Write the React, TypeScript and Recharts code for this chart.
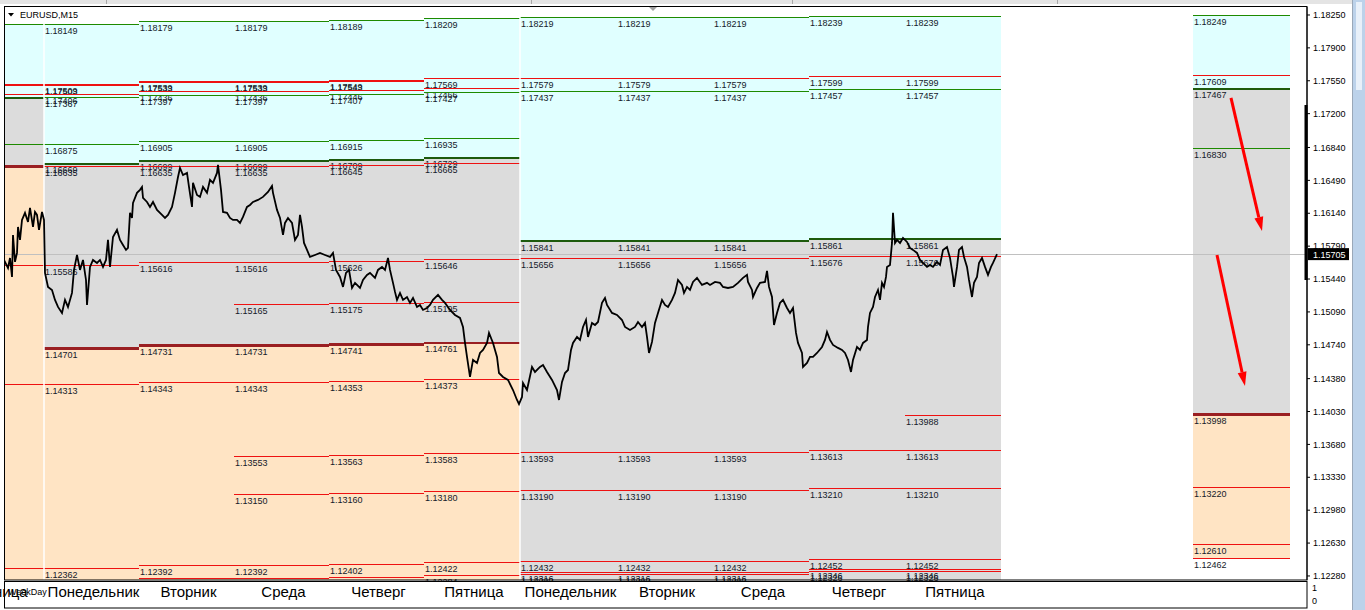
import React from "react";
import { ComposedChart, Line, XAxis, YAxis, ReferenceArea, ReferenceLine, ReferenceDot } from "recharts";

const FONT = "'Liberation Sans', Arial, sans-serif";

const Y_MIN = 1.12237;
const Y_MAX = 1.18335;
const X_MIN = 1;
const X_MAX = 1303;

const yTicks = [1.1825, 1.179, 1.1755, 1.172, 1.1684, 1.1649, 1.1614, 1.1579, 1.1544, 1.1509, 1.1474, 1.1438, 1.1403, 1.1368, 1.1333, 1.1298, 1.1263, 1.1228];
const bidPrice = 1.15705;

// M15 bars, one per column
const dayStarts = [-56, 40, 135, 230, 325, 420, 516, 613, 709, 805, 901];
const dayEnds = [40, 135, 230, 325, 420, 516, 613, 709, 805, 901, 997];
const dayNames = ["Пятница", "Понедельник", "Вторник", "Среда", "Четверг", "Пятница", "Понедельник", "Вторник", "Среда", "Четверг", "Пятница"];
const weekStarts = [40, 516];

// zone borders per day: cyan top, cyan/gray, gray/peach (null = below chart)
const cyanTops = [1.18149, 1.18149, 1.18179, 1.18179, 1.18189, 1.18209, 1.18219, 1.18219, 1.18219, 1.18239, 1.18239];
const grayTops = [1.17367, 1.16669, 1.16699, 1.16699, 1.16709, 1.16729, 1.15841, 1.15841, 1.15841, 1.15861, 1.15861];
const peachTops: (number | null)[] = [1.16635, 1.14701, 1.14731, 1.14731, 1.14741, 1.14761, null, null, null, null, null];

type Level = [number, string];

const dayLevels: Level[][] = [
  [[1.18149, "g"], [1.17509, "r"], [1.17503, "r"], [1.17406, "r"], [1.17367, "dg"], [1.16875, "g"], [1.16635, "br"], [1.15586, "r"], [1.14313, "r"], [1.12362, "r"]],
  [[1.18149, "g"], [1.17509, "r"], [1.17503, "r"], [1.17406, "r"], [1.17367, "g"], [1.16875, "g"], [1.16669, "dg"], [1.16635, "r"], [1.15586, "r"], [1.14701, "br"], [1.14313, "r"], [1.12362, "r"]],
  [[1.18179, "g"], [1.17539, "r"], [1.17533, "r"], [1.17436, "r"], [1.17397, "g"], [1.16905, "g"], [1.16699, "dg"], [1.16635, "r"], [1.15616, "r"], [1.14731, "br"], [1.14343, "r"], [1.12392, "r"], [1.12256, "r"]],
  [[1.18179, "g"], [1.17539, "r"], [1.17533, "r"], [1.17436, "r"], [1.17397, "g"], [1.16905, "g"], [1.16699, "dg"], [1.16635, "r"], [1.15616, "r"], [1.15165, "r"], [1.14731, "br"], [1.14343, "r"], [1.13553, "r"], [1.1315, "r"], [1.12392, "r"], [1.12256, "r"]],
  [[1.18189, "g"], [1.17549, "r"], [1.17543, "r"], [1.17446, "r"], [1.17407, "g"], [1.16915, "g"], [1.16709, "dg"], [1.16645, "r"], [1.15626, "r"], [1.15175, "r"], [1.14741, "br"], [1.14353, "r"], [1.13563, "r"], [1.1316, "r"], [1.12402, "r"], [1.12264, "r"]],
  [[1.18209, "g"], [1.17569, "r"], [1.17466, "r"], [1.17427, "g"], [1.16935, "g"], [1.16729, "dg"], [1.16665, "r"], [1.15646, "r"], [1.15195, "r"], [1.14761, "br"], [1.14373, "r"], [1.13583, "r"], [1.1318, "r"], [1.12422, "r"], [1.12284, "r"]],
  [[1.18219, "g"], [1.17579, "r"], [1.17437, "g"], [1.15841, "dg"], [1.15656, "r"], [1.13593, "r"], [1.1319, "r"], [1.12432, "r"], [1.12316, "r"], [1.12292, "r"]],
  [[1.18219, "g"], [1.17579, "r"], [1.17437, "g"], [1.15841, "dg"], [1.15656, "r"], [1.13593, "r"], [1.1319, "r"], [1.12432, "r"], [1.12316, "r"], [1.12292, "r"]],
  [[1.18219, "g"], [1.17579, "r"], [1.17437, "g"], [1.15841, "dg"], [1.15656, "r"], [1.13593, "r"], [1.1319, "r"], [1.12432, "r"], [1.12316, "r"], [1.12292, "r"]],
  [[1.18239, "g"], [1.17599, "r"], [1.17457, "g"], [1.15861, "dg"], [1.15676, "r"], [1.13613, "r"], [1.1321, "r"], [1.12452, "r"], [1.12346, "r"], [1.12326, "r"]],
  [[1.18239, "g"], [1.17599, "r"], [1.17457, "g"], [1.15861, "dg"], [1.15676, "r"], [1.13988, "r"], [1.13613, "r"], [1.1321, "r"], [1.12452, "r"], [1.12346, "r"], [1.12326, "r"]],
];

// projected levels for the next day (box on the right)
const nextStart = 1189;
const nextEnd = 1286;
const nextZone = [1.18249, 1.17467, 1.13998, 1.12462];
const nextLevels: Level[] = [[1.18249, "g"], [1.17609, "r"], [1.17467, "dg"], [1.1683, "g"], [1.13998, "br"], [1.1322, "r"], [1.1261, "r"], [1.12462, "r"]];

const arrowFrom: [number, number][] = [[1227, 1.17367], [1213, 1.15696]];
const arrowTo: [number, number][] = [[1258, 1.15951], [1241, 1.14302]];

// EURUSD M15 close path [bar, price]
const pricePath: [number, number][] = [
  [0, 1.15643], [4, 1.15558], [6, 1.15664], [8, 1.15462], [9, 1.15909], [11, 1.15622], [13, 1.15718], [14, 1.15994], [16, 1.15856], [18, 1.16069], [21, 1.16144], [24, 1.16047], [26, 1.16197], [29, 1.15994], [31, 1.16154], [33, 1.16122], [35, 1.15963], [38, 1.16154], [40, 1.16069],
  [41, 1.15505], [44, 1.15356], [48, 1.15324], [51, 1.15218], [54, 1.15143], [58, 1.15079], [61, 1.15218], [64, 1.15143], [68, 1.15292], [70, 1.15537], [73, 1.15696], [76, 1.15537], [79, 1.15643], [82, 1.1543], [83, 1.15164], [86, 1.15569], [89, 1.15643], [93, 1.15611], [96, 1.15643], [99, 1.15569], [102, 1.15643], [104, 1.15856], [106, 1.15569], [109, 1.15887], [113, 1.15963], [116, 1.15856], [119, 1.15803], [122, 1.1575], [124, 1.15771], [126, 1.16144], [128, 1.1609], [129, 1.1625], [133, 1.16357], [136, 1.16389],
  [138, 1.1642], [139, 1.16303], [143, 1.1626], [146, 1.16207], [149, 1.1626], [153, 1.16176], [158, 1.16122], [161, 1.1609], [164, 1.16122], [168, 1.16207], [171, 1.16357], [174, 1.16526], [176, 1.16622], [179, 1.16547], [183, 1.16569], [185, 1.1642], [188, 1.16207], [189, 1.16463], [193, 1.16335], [196, 1.16314], [199, 1.1642], [203, 1.16357], [206, 1.16495], [209, 1.16463], [213, 1.16569], [214, 1.16654], [217, 1.16389], [219, 1.16154], [223, 1.16144], [226, 1.1609], [229, 1.16069],
  [233, 1.16069], [236, 1.16037], [239, 1.16101], [243, 1.16207], [246, 1.16228], [249, 1.1626], [254, 1.16282], [259, 1.16314], [264, 1.16367], [268, 1.16431], [269, 1.16357], [273, 1.16176], [276, 1.1609], [279, 1.15909], [281, 1.16037], [284, 1.1609], [288, 1.16037], [291, 1.15856], [294, 1.15909], [296, 1.16122], [298, 1.15994], [300, 1.15824], [303, 1.1575], [306, 1.15675], [311, 1.15696], [316, 1.15718], [321, 1.15696], [326, 1.15675], [329, 1.15718],
  [332, 1.15537], [336, 1.15462], [339, 1.15356], [342, 1.15505], [345, 1.15537], [348, 1.15345], [351, 1.15399], [356, 1.15345], [359, 1.1543], [363, 1.15484], [366, 1.15505], [371, 1.15452], [374, 1.15537], [378, 1.15569], [381, 1.15537], [384, 1.15664], [386, 1.15537], [389, 1.15399], [391, 1.15303], [393, 1.15218], [396, 1.15292], [399, 1.15218], [403, 1.15249], [406, 1.15186], [409, 1.15239], [413, 1.15143], [416, 1.15164], [419, 1.15111],
  [423, 1.15132], [426, 1.15164], [429, 1.15218], [434, 1.15271], [438, 1.15218], [441, 1.15186], [446, 1.15111], [451, 1.15058], [456, 1.15026], [459, 1.1493], [461, 1.1476], [463, 1.14611], [466, 1.14398], [469, 1.14579], [473, 1.14547], [476, 1.14653], [479, 1.14685], [483, 1.1476], [485, 1.14866], [489, 1.1476], [493, 1.14611], [495, 1.1444], [499, 1.14398], [504, 1.14366], [509, 1.14259], [513, 1.14153], [515, 1.1411],
  [518, 1.14185], [519, 1.14334], [523, 1.14259], [528, 1.14504], [531, 1.14451], [536, 1.14504], [539, 1.14525], [543, 1.14451], [548, 1.14366], [553, 1.14259], [555, 1.14153], [558, 1.14345], [561, 1.1444], [564, 1.14472], [567, 1.14685], [569, 1.1476], [573, 1.14824], [576, 1.14792], [579, 1.1493], [582, 1.15004], [584, 1.14824], [588, 1.14973], [591, 1.14951], [594, 1.14983], [598, 1.15186], [601, 1.15239], [603, 1.15164], [608, 1.15079],
  [613, 1.15058], [618, 1.15004], [621, 1.1493], [626, 1.14898], [631, 1.1493], [634, 1.14983], [638, 1.1493], [641, 1.14973], [643, 1.14824], [645, 1.14653], [648, 1.14771], [651, 1.14973], [654, 1.15079], [658, 1.15218], [661, 1.15164], [664, 1.15143], [668, 1.15218], [671, 1.15292], [674, 1.1543], [678, 1.15377], [680, 1.15292], [683, 1.15356], [686, 1.15324], [689, 1.15409], [693, 1.15452], [698, 1.15377], [703, 1.15399], [706, 1.15377],
  [711, 1.15409], [716, 1.15399], [719, 1.15356], [724, 1.15345], [729, 1.15356], [734, 1.15399], [739, 1.15452], [743, 1.15484], [744, 1.15409], [748, 1.15324], [749, 1.15249], [753, 1.15345], [756, 1.15399], [761, 1.15409], [763, 1.15526], [765, 1.15356], [768, 1.15249], [770, 1.14951], [773, 1.15079], [776, 1.15186], [779, 1.15218], [783, 1.15132], [786, 1.15079], [789, 1.15132], [792, 1.14866], [794, 1.1476], [798, 1.14653], [799, 1.14504],
  [803, 1.14547], [806, 1.14611], [809, 1.14611], [813, 1.14653], [818, 1.14717], [821, 1.14792], [823, 1.14877], [826, 1.14792], [829, 1.14739], [834, 1.14707], [838, 1.14685], [841, 1.14653], [844, 1.14579], [847, 1.14451], [849, 1.14579], [853, 1.14717], [856, 1.14685], [859, 1.1476], [863, 1.14792], [864, 1.1493], [866, 1.15079], [869, 1.15143], [871, 1.15249], [874, 1.15324], [876, 1.15218], [878, 1.15399], [880, 1.15356], [882, 1.15462], [883, 1.15569], [886, 1.1559], [888, 1.15824], [889, 1.16144], [891, 1.15824], [893, 1.15856], [896, 1.15824],
  [899, 1.15877], [903, 1.15835], [906, 1.15771], [909, 1.1575], [913, 1.15718], [916, 1.15643], [919, 1.15611], [923, 1.15569], [926, 1.1559], [929, 1.15569], [933, 1.15622], [936, 1.1559], [939, 1.1575], [943, 1.15781], [946, 1.15664], [949, 1.15462], [950, 1.15356], [953, 1.15569], [955, 1.1575], [958, 1.15781], [960, 1.15675], [963, 1.15569], [965, 1.1543], [968, 1.15249], [970, 1.15399], [973, 1.15462], [975, 1.15611], [978, 1.15664], [981, 1.15569], [984, 1.15484], [987, 1.15569], [989, 1.15611], [993, 1.15705],
];

const LEVEL_STYLE: Record<string, { color: string; width: number }> = {
  g: { color: "#1e8a00", width: 1 },
  dg: { color: "#1d5a0c", width: 2 },
  r: { color: "#ee1111", width: 1 },
  br: { color: "#9a1f22", width: 2.5 },
};

const ZONE = { cyan: "#e0ffff", gray: "#dcdcdc", peach: "#ffe4c4" };

const priceData = pricePath.map(([bar, price]) => ({ bar, price }));
const dayLabelData = dayNames.map((name, i) => ({ bar: (dayStarts[i] + dayEnds[i]) / 2 + 2, v: 0.3, name }));

const levelShape = (price: number, kind: string, showLabel: boolean) => (p: any) => {
  const st = LEVEL_STYLE[kind];
  const left = Math.min(p.x1, p.x2);
  return (
    <g>
      <line x1={p.x1} y1={p.y1} x2={p.x2} y2={p.y2} stroke={st.color} strokeWidth={st.width} shapeRendering="crispEdges" />
      {showLabel && (
        <text x={left + 1} y={p.y1 + 9.5} fontSize={9} fontFamily={FONT} fill="#141a2a">
          {price.toFixed(5)}
        </text>
      )}
    </g>
  );
};

const bidShape = (p: any) => {
  const right = Math.max(p.x1, p.x2);
  return (
    <g>
      <line x1={p.x1} y1={p.y1} x2={p.x2} y2={p.y2} stroke="#c0c0c0" strokeWidth={1} shapeRendering="crispEdges" />
      <rect x={right + 1} y={p.y1 - 6} width={41} height={12} fill="#000" />
      <text x={right + 6} y={p.y1 + 3.5} fontSize={9} fontFamily={FONT} fill="#fff">
        {bidPrice.toFixed(5)}
      </text>
    </g>
  );
};

const arrowShape = (p: any) => {
  const dx = p.x2 - p.x1;
  const dy = p.y2 - p.y1;
  const len = Math.hypot(dx, dy);
  const ux = dx / len;
  const uy = dy / len;
  const hl = 14;
  const hw = 4.5;
  const bx = p.x2 - ux * hl;
  const by = p.y2 - uy * hl;
  return (
    <g>
      <line x1={p.x1} y1={p.y1} x2={bx} y2={by} stroke="#ff0000" strokeWidth={3} />
      <polygon points={`${p.x2},${p.y2} ${bx - uy * hw},${by + ux * hw} ${bx + uy * hw},${by - ux * hw}`} fill="#ff0000" />
    </g>
  );
};

function zoneAreas(key: string, x1: number, x2: number, bounds: (number | null)[]) {
  const [cTop, gTop, pTop, pBottom] = bounds;
  const out: React.ReactNode[] = [];
  const gBottom = pTop == null ? Y_MIN : pTop;
  out.push(<ReferenceArea key={key + "c"} x1={x1} x2={x2} y1={gTop as number} y2={cTop as number} fill={ZONE.cyan} fillOpacity={1} stroke="none" />);
  out.push(<ReferenceArea key={key + "g"} x1={x1} x2={x2} y1={gBottom} y2={gTop as number} fill={ZONE.gray} fillOpacity={1} stroke="none" />);
  if (pTop != null) {
    out.push(<ReferenceArea key={key + "p"} x1={x1} x2={x2} y1={pBottom == null ? Y_MIN : pBottom} y2={pTop} fill={ZONE.peach} fillOpacity={1} stroke="none" />);
  }
  return out;
}

function levelLines(key: string, x1: number, x2: number, levels: Level[], showLabel: boolean) {
  return levels.map(([price, kind], j) => (
    <ReferenceLine
      key={key + "-" + j}
      segment={[{ x: x1, y: price }, { x: x2, y: price }]}
      shape={levelShape(price, kind, showLabel)}
    />
  ));
}

export default function App() {
  return (
    <div style={{ position: "absolute", left: 0, top: 0, width: 1365, height: 610, background: "#fff", overflow: "hidden", fontFamily: FONT }}>
      {/* main window */}
      <div style={{ position: "absolute", left: 0, top: 0 }}>
        <ComposedChart width={1365} height={582} data={priceData} margin={{ top: 7, right: 0, bottom: 2, left: 5 }}>
          <XAxis type="number" dataKey="bar" domain={[X_MIN, X_MAX]} hide allowDataOverflow />
          <YAxis
            orientation="right"
            type="number"
            domain={[Y_MIN, Y_MAX]}
            ticks={yTicks}
            interval={0}
            width={58}
            allowDataOverflow
            tickSize={3}
            tickMargin={3}
            tickFormatter={(v: number) => v.toFixed(5)}
            axisLine={{ stroke: "#000" }}
            tickLine={{ stroke: "#000" }}
            tick={{ fill: "#000", fontSize: 9, fontFamily: FONT }}
          />

          {dayStarts.map((s, i) =>
            zoneAreas("z" + i, Math.max(s, X_MIN), dayEnds[i], [cyanTops[i], grayTops[i], peachTops[i], null])
          )}
          {zoneAreas("zn", nextStart, nextEnd, nextZone)}

          {dayStarts.map((s, i) => levelLines("l" + i, Math.max(s, X_MIN), dayEnds[i], dayLevels[i], i > 0))}
          {levelLines("ln", nextStart, nextEnd, nextLevels, true)}

          {weekStarts.map((w) => (
            <ReferenceLine key={"w" + w} x={w} stroke="#ffffff" strokeWidth={1.5} />
          ))}

          <ReferenceLine y={bidPrice} shape={bidShape} />

          {arrowFrom.map((a, i) => (
            <ReferenceLine
              key={"a" + i}
              segment={[{ x: a[0], y: a[1] }, { x: arrowTo[i][0], y: arrowTo[i][1] }]}
              shape={arrowShape}
            />
          ))}

          <Line type="linear" dataKey="price" stroke="#000" strokeWidth={1.8} dot={false} activeDot={false} isAnimationActive={false} />
        </ComposedChart>
      </div>

      {/* WeekDay sub-window */}
      <div style={{ position: "absolute", left: 0, top: 582 }}>
        <ComposedChart width={1365} height={26} data={dayLabelData} margin={{ top: 0, right: 0, bottom: 0, left: 5 }}>
          <XAxis type="number" dataKey="bar" domain={[X_MIN, X_MAX]} hide allowDataOverflow />
          <YAxis
            orientation="right"
            type="number"
            dataKey="v"
            domain={[-0.54, 1.46]}
            ticks={[0, 1]}
            interval={0}
            width={58}
            allowDataOverflow
            tickLine={false}
            axisLine={false}
            tickSize={4}
            tickMargin={1}
            tick={{ fill: "#000", fontSize: 9, fontFamily: FONT }}
          />
          {dayLabelData.map((d, i) => (
            <ReferenceDot
              key={"d" + i}
              x={d.bar}
              y={d.v}
              ifOverflow="hidden"
              shape={(p: any) => (
                <text x={p.cx} y={p.cy} textAnchor="middle" fontSize={15} fontFamily={FONT} fill="#000">
                  {d.name}
                </text>
              )}
            />
          ))}
        </ComposedChart>
      </div>

      {/* terminal chrome */}
      <svg width={1365} height={610} style={{ position: "absolute", left: 0, top: 0, pointerEvents: "none" }}>
        <rect x={0} y={0} width={1352} height={4} fill="#e4e4e4" />
        <line x1={106.5} y1={0} x2={106.5} y2={4} stroke="#a8a8a8" />
        <line x1={531.5} y1={0} x2={531.5} y2={4} stroke="#a8a8a8" />
        <line x1={792.5} y1={0} x2={792.5} y2={4} stroke="#a8a8a8" />
        <line x1={1057.5} y1={0} x2={1057.5} y2={4} stroke="#a8a8a8" />
        <polygon points="649,7 657,7 653,11" fill="#a0a0a0" />
        <rect x={4.5} y={6.5} width={1302.5} height={573.5} fill="none" stroke="#000" />
        <rect x={4.5} y={581.5} width={1302.5} height={26.5} fill="none" stroke="#000" />
        <polygon points="8,13 14,13 11,16.5" fill="#000" />
        <text x={20} y={17.5} fontSize={9} fontFamily={FONT} fill="#000">EURUSD,M15</text>
        <rect x={1304.5} y={105} width={3} height={175} fill="#000" />
        <text x={8} y={595} fontSize={9} fontFamily={FONT} fill="#000">WeekDay</text>
        <rect x={1352} y={0} width={13} height={610} fill="#bcd2ea" />
        <line x1={1352.5} y1={0} x2={1352.5} y2={610} stroke="#9aa8b8" />
        <rect x={1356} y={2} width={6} height={88} fill="#e8f0f9" />
      </svg>
    </div>
  );
}
